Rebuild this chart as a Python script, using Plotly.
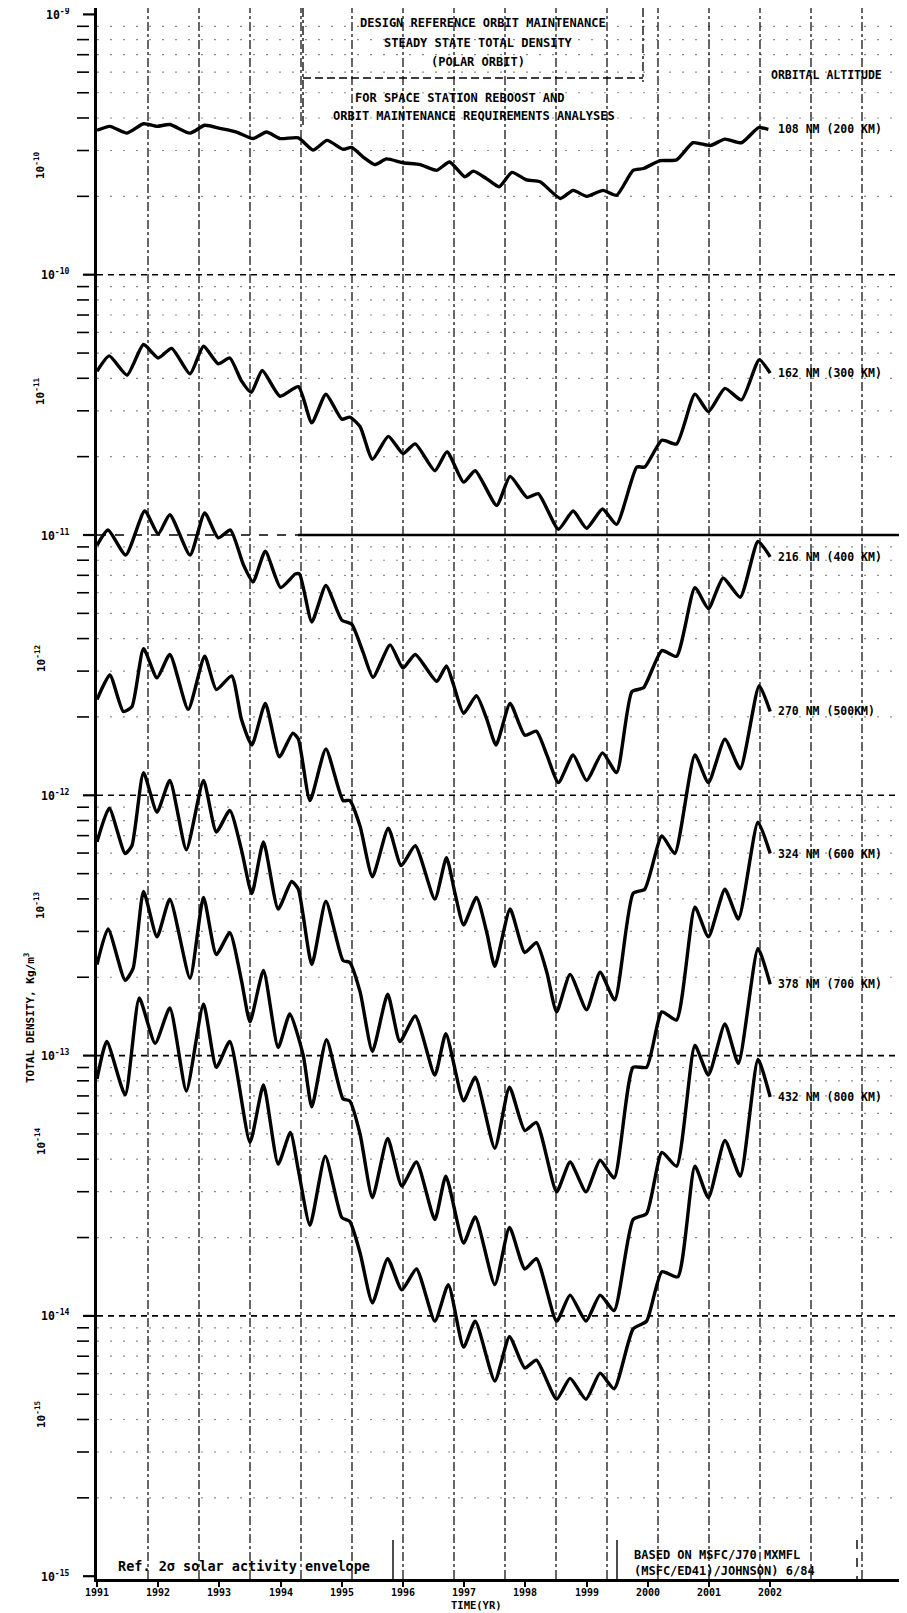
import numpy as np
import plotly.graph_objects as go

# ---------------- data (log10 of total density, kg/m^3) ----------------
YEARS_200 = [1991.00, 1991.21, 1991.49, 1991.76, 1991.98, 1992.19, 1992.52, 1992.76, 1993.01, 1993.28,
             1993.55, 1993.77, 1993.99, 1994.29, 1994.53, 1994.76, 1995.02, 1995.16, 1995.35, 1995.54,
             1995.73, 1996.00, 1996.28, 1996.55, 1996.76, 1997.01, 1997.15, 1997.37, 1997.57, 1997.78,
             1998.02, 1998.24, 1998.57, 1998.78, 1999.00, 1999.27, 1999.49, 1999.76, 1999.93, 2000.20,
             2000.47, 2000.74, 2001.02, 2001.26, 2001.53, 2001.81, 2001.97]
LOG_RHO_200 = [-9.445, -9.430, -9.456, -9.420, -9.430, -9.423, -9.456, -9.426, -9.438, -9.452,
               -9.477, -9.452, -9.477, -9.474, -9.521, -9.484, -9.518, -9.511, -9.548, -9.577,
               -9.555, -9.570, -9.577, -9.599, -9.567, -9.624, -9.602, -9.632, -9.662, -9.607,
               -9.636, -9.643, -9.707, -9.676, -9.699, -9.676, -9.695, -9.599, -9.592, -9.562,
               -9.559, -9.493, -9.504, -9.479, -9.493, -9.435, -9.442]

YEARS_300 = [1991.00, 1991.20, 1991.49, 1991.76, 1992.00, 1992.22, 1992.52, 1992.74, 1992.98, 1993.17,
             1993.36, 1993.52, 1993.70, 1993.99, 1994.29, 1994.51, 1994.74, 1995.00, 1995.13, 1995.30,
             1995.50, 1995.76, 1996.00, 1996.20, 1996.52, 1996.72, 1996.99, 1997.18, 1997.53, 1997.75,
             1998.03, 1998.21, 1998.54, 1998.78, 1999.00, 1999.26, 1999.49, 1999.82, 1999.95, 2000.23,
             2000.47, 2000.77, 2000.99, 2001.26, 2001.53, 2001.82, 2002.00]
LOG_RHO_300 = [-10.371, -10.312, -10.386, -10.268, -10.320, -10.283, -10.381, -10.275, -10.342, -10.320,
               -10.408, -10.452, -10.368, -10.467, -10.430, -10.569, -10.459, -10.555, -10.547, -10.584,
               -10.709, -10.621, -10.687, -10.650, -10.753, -10.680, -10.797, -10.753, -10.886, -10.775,
               -10.856, -10.841, -10.978, -10.908, -10.974, -10.900, -10.959, -10.739, -10.739, -10.636,
               -10.650, -10.459, -10.526, -10.437, -10.481, -10.327, -10.378]

YEARS_400 = [1991.00, 1991.18, 1991.47, 1991.78, 1992.00, 1992.19, 1992.52, 1992.76, 1992.98, 1993.18,
             1993.39, 1993.55, 1993.75, 1994.00, 1994.24, 1994.31, 1994.51, 1994.74, 1995.00, 1995.16,
             1995.35, 1995.51, 1995.79, 1996.00, 1996.20, 1996.55, 1996.71, 1996.82, 1996.99, 1997.20,
             1997.37, 1997.52, 1997.75, 1997.99, 1998.18, 1998.35, 1998.54, 1998.78, 1999.00, 1999.26,
             1999.49, 1999.74, 1999.93, 2000.23, 2000.47, 2000.77, 2000.99, 2001.23, 2001.51, 2001.80,
             2002.00]
LOG_RHO_400 = [-11.040, -10.981, -11.077, -10.908, -10.996, -10.922, -11.077, -10.915, -11.011, -10.981,
               -11.113, -11.180, -11.062, -11.202, -11.150, -11.150, -11.334, -11.194, -11.327, -11.342,
               -11.452, -11.547, -11.422, -11.511, -11.459, -11.562, -11.503, -11.571, -11.685, -11.617,
               -11.708, -11.807, -11.647, -11.769, -11.754, -11.845, -11.951, -11.845, -11.943, -11.837,
               -11.913, -11.602, -11.587, -11.444, -11.466, -11.202, -11.283, -11.165, -11.239, -11.025,
               -11.084]

YEARS_500 = [1991.00, 1991.21, 1991.43, 1991.57, 1991.76, 1991.98, 1992.19, 1992.49, 1992.76, 1992.95,
             1993.20, 1993.36, 1993.53, 1993.75, 1993.98, 1994.20, 1994.29, 1994.48, 1994.74, 1995.02,
             1995.13, 1995.30, 1995.50, 1995.76, 1995.97, 1996.20, 1996.52, 1996.71, 1996.85, 1996.99,
             1997.20, 1997.37, 1997.50, 1997.75, 1997.99, 1998.18, 1998.35, 1998.51, 1998.73, 1999.00,
             1999.22, 1999.46, 1999.76, 1999.95, 2000.23, 2000.44, 2000.77, 2000.99, 2001.26, 2001.51,
             2001.82, 2002.00]
LOG_RHO_500 = [-11.632, -11.538, -11.678, -11.660, -11.437, -11.549, -11.459, -11.670, -11.466, -11.594,
               -11.541, -11.708, -11.807, -11.647, -11.852, -11.761, -11.784, -12.020, -11.822, -12.020,
               -12.020, -12.120, -12.313, -12.126, -12.270, -12.194, -12.399, -12.240, -12.377, -12.498,
               -12.392, -12.528, -12.657, -12.437, -12.604, -12.566, -12.680, -12.832, -12.688, -12.824,
               -12.680, -12.786, -12.377, -12.361, -12.156, -12.224, -11.845, -11.951, -11.784, -11.898,
               -11.579, -11.678]

YEARS_600 = [1991.00, 1991.20, 1991.46, 1991.57, 1991.76, 1991.98, 1992.19, 1992.46, 1992.74, 1992.95,
             1993.17, 1993.36, 1993.53, 1993.72, 1993.96, 1994.18, 1994.29, 1994.51, 1994.74, 1995.02,
             1995.13, 1995.30, 1995.50, 1995.75, 1995.95, 1996.20, 1996.52, 1996.70, 1996.99, 1997.18,
             1997.50, 1997.74, 1997.99, 1998.18, 1998.51, 1998.73, 1998.99, 1999.22, 1999.45, 1999.76,
             1999.98, 2000.23, 2000.47, 2000.77, 2000.99, 2001.26, 2001.48, 2001.80, 2002.00]
LOG_RHO_600 = [-12.179, -12.050, -12.224, -12.194, -11.913, -12.065, -11.943, -12.209, -11.943, -12.141,
               -12.058, -12.209, -12.377, -12.179, -12.437, -12.331, -12.361, -12.650, -12.407, -12.635,
               -12.642, -12.756, -12.984, -12.764, -12.946, -12.848, -13.075, -12.916, -13.174, -13.083,
               -13.356, -13.121, -13.288, -13.257, -13.523, -13.409, -13.523, -13.402, -13.470, -13.045,
               -13.045, -12.832, -12.863, -12.430, -12.544, -12.361, -12.475, -12.103, -12.224]

YEARS_700 = [1991.00, 1991.18, 1991.46, 1991.59, 1991.76, 1991.98, 1992.19, 1992.52, 1992.74, 1992.95,
             1993.17, 1993.36, 1993.50, 1993.72, 1993.96, 1994.15, 1994.37, 1994.51, 1994.75, 1995.02,
             1995.13, 1995.30, 1995.50, 1995.75, 1995.98, 1996.22, 1996.52, 1996.70, 1996.99, 1997.18,
             1997.50, 1997.74, 1997.99, 1998.18, 1998.51, 1998.73, 1998.99, 1999.22, 1999.45, 1999.76,
             1999.98, 2000.23, 2000.47, 2000.77, 2000.99, 2001.26, 2001.48, 2001.80, 2002.00]
LOG_RHO_700 = [-12.650, -12.513, -12.711, -12.665, -12.369, -12.544, -12.399, -12.703, -12.392, -12.612,
               -12.528, -12.711, -12.870, -12.673, -12.969, -12.840, -12.999, -13.197, -12.939, -13.166,
               -13.174, -13.303, -13.546, -13.318, -13.501, -13.409, -13.630, -13.463, -13.720, -13.620,
               -13.880, -13.660, -13.820, -13.780, -14.020, -13.920, -14.020, -13.920, -13.980, -13.630,
               -13.607, -13.372, -13.425, -12.961, -13.075, -12.878, -13.030, -12.589, -12.726]

YEARS_800 = [1991.00, 1991.16, 1991.46, 1991.69, 1991.95, 1992.19, 1992.46, 1992.74, 1992.95, 1993.17,
             1993.50, 1993.72, 1993.96, 1994.16, 1994.29, 1994.48, 1994.73, 1995.00, 1995.13, 1995.30,
             1995.50, 1995.75, 1995.98, 1996.22, 1996.52, 1996.74, 1996.99, 1997.18, 1997.50, 1997.74,
             1997.99, 1998.18, 1998.51, 1998.73, 1998.99, 1999.22, 1999.45, 1999.76, 1999.98, 2000.23,
             2000.49, 2000.77, 2000.99, 2001.26, 2001.51, 2001.80, 2002.00]
LOG_RHO_800 = [-13.090, -12.946, -13.151, -12.779, -12.953, -12.817, -13.136, -12.802, -13.045, -12.946,
               -13.333, -13.113, -13.417, -13.295, -13.440, -13.652, -13.386, -13.622, -13.637, -13.759,
               -13.950, -13.780, -13.900, -13.820, -14.020, -13.880, -14.120, -14.020, -14.250, -14.080,
               -14.200, -14.170, -14.320, -14.240, -14.320, -14.220, -14.280, -14.050, -14.020, -13.830,
               -13.850, -13.425, -13.546, -13.326, -13.463, -13.015, -13.159]

ALTITUDE_LABELS = ["108 NM (200 KM)", "162 NM (300 KM)", "216 NM (400 KM)", "270 NM (500KM)",
                   "324 NM (600 KM)", "378 NM (700 KM)", "432 NM (800 KM)"]
YEAR_TICKS = list(range(1991, 2003))
DECADES = [-9, -10, -11, -12, -13, -14, -15]
ROTATED_DECADES = [-10, -11, -12, -13, -14, -15]

SERIES = [(YEARS_200, LOG_RHO_200), (YEARS_300, LOG_RHO_300), (YEARS_400, LOG_RHO_400),
          (YEARS_500, LOG_RHO_500), (YEARS_600, LOG_RHO_600), (YEARS_700, LOG_RHO_700),
          (YEARS_800, LOG_RHO_800)]

# ---------------- geometry (window pixel coords; the page body has an 8px margin) ----------------
WIN_W, WIN_H = 907, 1613
BODY = 8
FIG_W, FIG_H = WIN_W - BODY, WIN_H - BODY
LEFT, RIGHT, TOP, BOTTOM = 97, WIN_W, BODY, 1579      # plot area in window pixels
PX_PER_DEC = 260.3
Y_HI = -9 + (14.4 - TOP) / PX_PER_DEC
Y_LO = -9 - (BOTTOM - 14.4) / PX_PER_DEC
X_LO, X_HI = 1991.0, 1991.0 + (RIGHT - LEFT) / 61.2


def px(xw):
    return (xw - LEFT) / (RIGHT - LEFT)


def py(yw):
    return (BOTTOM - yw) / (BOTTOM - TOP)


def pl(logv):
    return (logv - Y_LO) / (Y_HI - Y_LO)


FONT = "DejaVu Sans Mono"
INK = "black"

fig = go.Figure()
for yrs, logs in SERIES:
    fig.add_trace(go.Scatter(
        x=yrs, y=np.power(10.0, np.array(logs)), mode="lines",
        line=dict(color=INK, width=3.4, shape="spline", smoothing=0.55),
        showlegend=False, hoverinfo="skip"))

shapes = []
# vertical dash-dot grid lines
for k in range(1, 17):
    xw = LEFT + 51 * k
    if xw > RIGHT - 3:
        break
    shapes.append(dict(type="line", xref="paper", yref="paper", x0=px(xw), x1=px(xw), y0=0, y1=1,
                       line=dict(color="rgba(0,0,0,0.85)", width=1.4, dash="dashdot"), layer="below"))
# minor horizontal dotted grid + small dashes left of the axis
for n in range(-15, -9):
    for k in range(2, 10):
        lv = n + np.log10(k)
        shapes.append(dict(type="line", xref="paper", yref="paper", x0=0, x1=1, y0=pl(lv), y1=pl(lv),
                           line=dict(color="rgba(0,0,0,0.45)", width=1.2, dash="2px,11px"), layer="below"))
        shapes.append(dict(type="line", xref="paper", yref="paper", x0=px(77), x1=px(89), y0=pl(lv), y1=pl(lv),
                           line=dict(color=INK, width=1.6)))
# decade lines
for n in DECADES[1:-1]:
    if n == -11:
        shapes.append(dict(type="line", xref="paper", yref="paper", x0=0, x1=px(298), y0=pl(n), y1=pl(n),
                           line=dict(color=INK, width=1.6, dash="dash"), layer="below"))
        shapes.append(dict(type="line", xref="paper", yref="paper", x0=px(298), x1=1, y0=pl(n), y1=pl(n),
                           line=dict(color=INK, width=2.6), layer="below"))
    else:
        shapes.append(dict(type="line", xref="paper", yref="paper", x0=0, x1=1, y0=pl(n), y1=pl(n),
                           line=dict(color=INK, width=1.6, dash="6px,5px"), layer="below"))
for n in DECADES:
    shapes.append(dict(type="line", xref="paper", yref="paper", x0=px(83), x1=0, y0=pl(n), y1=pl(n),
                       line=dict(color=INK, width=2.2)))
# title box and note boxes
shapes += [
    dict(type="line", xref="paper", yref="paper", x0=px(303), x1=px(303), y0=1, y1=py(127),
         line=dict(color=INK, width=1.3, dash="dashdot")),
    dict(type="line", xref="paper", yref="paper", x0=px(643), x1=px(643), y0=1, y1=py(82),
         line=dict(color=INK, width=1.3, dash="dashdot")),
    dict(type="line", xref="paper", yref="paper", x0=px(303), x1=px(643), y0=py(78), y1=py(78),
         line=dict(color=INK, width=1.6, dash="8px,4px")),
    dict(type="line", xref="paper", yref="paper", x0=px(393), x1=px(393), y0=py(1540), y1=0,
         line=dict(color=INK, width=1.4)),
    dict(type="line", xref="paper", yref="paper", x0=px(617), x1=px(617), y0=py(1540), y1=0,
         line=dict(color=INK, width=1.4)),
    dict(type="line", xref="paper", yref="paper", x0=px(857), x1=px(857), y0=py(1540), y1=0,
         line=dict(color=INK, width=1.4, dash="dash")),
]

ann = []
bold = dict(family=FONT, color=INK, size=12, weight="bold")
# horizontal decade labels
for n in DECADES:
    ann.append(dict(xref="paper", yref="paper", x=px(72), y=pl(n), xanchor="right", yanchor="middle",
                    text=f"10<sup>{n}</sup>", showarrow=False, font=dict(bold, size=11.5)))
# rotated decade labels (as printed on the scan)
ROT_Y = [165, 391, 658, 905, 1141, 1414]
for n, yw in zip(ROTATED_DECADES, ROT_Y):
    ann.append(dict(xref="paper", yref="paper", x=px(40), y=py(yw), xanchor="center", yanchor="middle",
                    text=f"10<sup>{n}</sup>", textangle=-90, showarrow=False, font=dict(bold, size=11)))
ann.append(dict(xref="paper", yref="paper", x=px(29), y=py(1018), text="TOTAL DENSITY, Kg/m<sup>3</sup>",
                xanchor="center", yanchor="middle",
                textangle=-90, showarrow=False, font=dict(bold, size=11)))
# year labels under the axis
for yr in YEAR_TICKS:
    ann.append(dict(xref="x", yref="paper", x=yr, y=py(1592), text=str(yr), showarrow=False,
                    xanchor="center", yanchor="middle", font=dict(bold, size=10)))
# curve labels
for (yrs, logs), lab in zip(SERIES, ALTITUDE_LABELS):
    ann.append(dict(xref="paper", yref="y", x=px(776), y=logs[-1], xanchor="left", yanchor="middle",
                    text=lab, showarrow=False, font=dict(bold, size=11.5)))
ann.append(dict(xref="paper", yref="paper", x=px(826), y=py(75), text="ORBITAL ALTITUDE", showarrow=False,
                xanchor="center", yanchor="middle", font=dict(bold, size=11.5)))
# title block
for txt, yw, xc in [("DESIGN REFERENCE ORBIT MAINTENANCE", 23, 483),
                    ("STEADY STATE TOTAL DENSITY", 43, 478),
                    ("(POLAR ORBIT)", 62, 478),
                    ("FOR SPACE STATION REBOOST AND", 98, 460),
                    ("ORBIT MAINTENANCE REQUIREMENTS ANALYSES", 116, 474)]:
    ann.append(dict(xref="paper", yref="paper", x=px(xc), y=py(yw), text=txt, showarrow=False,
                    xanchor="center", yanchor="middle", font=dict(bold, size=12)))
# notes at bottom
ann.append(dict(xref="paper", yref="paper", x=px(116), y=py(1566), text="Ref. 2\u03c3 solar activity envelope",
                showarrow=False, xanchor="left", yanchor="middle", font=dict(bold, size=13.5)))
ann.append(dict(xref="paper", yref="paper", x=px(632), y=py(1555), text="BASED ON MSFC/J70 MXMFL",
                showarrow=False, xanchor="left", yanchor="middle", font=dict(bold, size=12)))
ann.append(dict(xref="paper", yref="paper", x=px(632), y=py(1571), text="(MSFC/ED41)/JOHNSON) 6/84",
                showarrow=False, xanchor="left", yanchor="middle", font=dict(bold, size=12)))
ann.append(dict(xref="paper", yref="paper", x=px(476), y=py(1605), text="TIME(YR)", showarrow=False,
                xanchor="center", yanchor="middle", font=dict(bold, size=10.5)))

fig.update_layout(
    width=FIG_W, height=FIG_H,
    margin=dict(l=LEFT - BODY, r=0, t=TOP - BODY, b=FIG_H - (BOTTOM - BODY)),
    paper_bgcolor="white", plot_bgcolor="white",
    shapes=shapes, annotations=ann, showlegend=False,
    xaxis=dict(range=[X_LO, X_HI], tickmode="array", tickvals=YEAR_TICKS, showticklabels=False,
               ticks="outside", ticklen=5, tickwidth=2,
               tickcolor=INK, showline=True, linewidth=3, linecolor=INK, showgrid=False, zeroline=False),
    yaxis=dict(type="log", range=[Y_LO, Y_HI], showline=True, linewidth=3, linecolor=INK,
               showgrid=False, zeroline=False, showticklabels=False, ticks=""),
)

fig.write_html("out.html")
